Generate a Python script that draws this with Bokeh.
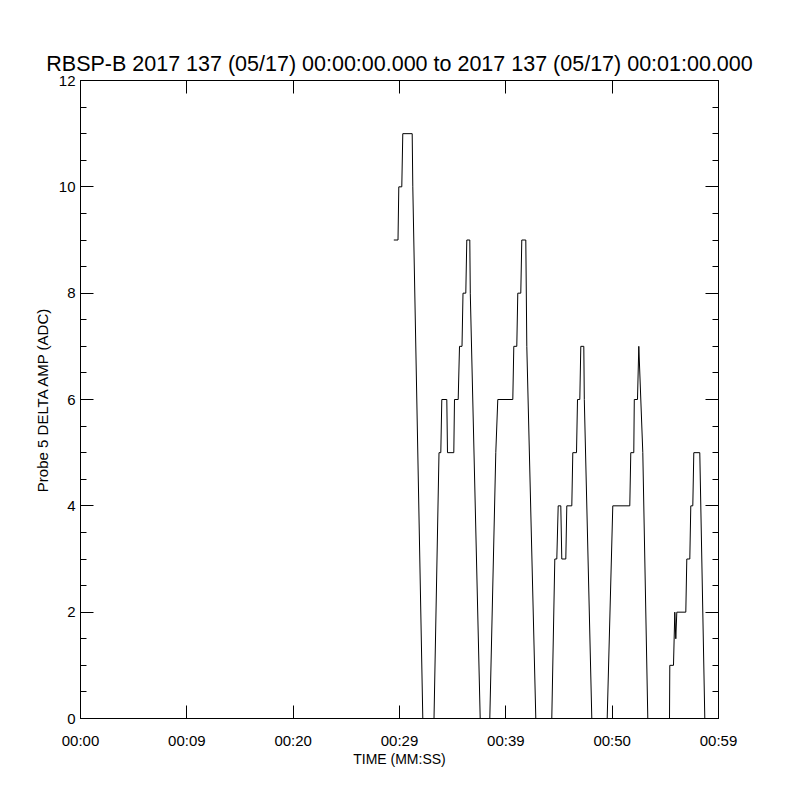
from bokeh.plotting import figure
from bokeh.models import LinearAxis, FixedTicker, Range1d
from bokeh.embed import file_html
from bokeh.resources import INLINE

title_text = "RBSP-B 2017 137 (05/17) 00:00:00.000 to 2017 137 (05/17) 00:01:00.000"
x_label = "TIME (MM:SS)"
y_label = "Probe 5 DELTA AMP (ADC)"
x_tick_values = [0, 10, 20, 30, 40, 50, 60]
x_tick_labels = ["00:00", "00:09", "00:20", "00:29", "00:39", "00:50", "00:59"]
y_tick_values = [0, 2, 4, 6, 8, 10, 12]
y_minor_values = [0.5, 1, 1.5, 2.5, 3, 3.5, 4.5, 5, 5.5, 6.5, 7, 7.5,
                  8.5, 9, 9.5, 10.5, 11, 11.5]

# seconds after 00:00:00 and probe 5 delta amplitude (ADC)
t_sec = [29.464, 29.859, 29.934, 30.216, 30.310, 31.194, 31.251, 32.191,
         33.245, 33.715, 33.884, 33.978, 34.448, 34.514, 35.107, 35.172,
         35.520, 35.643, 35.878, 35.972, 36.235, 36.329, 36.611, 36.658,
         37.589, 38.492, 39.056, 39.244, 40.655, 40.749, 41.031, 41.125,
         41.407, 41.501, 41.878, 41.972, 42.818, 44.322, 44.605, 44.793,
         44.925, 45.169, 45.263, 45.640, 45.734, 46.204, 46.298, 46.646,
         46.740, 46.956, 47.050, 47.332, 47.380, 48.085, 49.533, 50.059,
         51.658, 51.752, 52.034, 52.081, 52.382, 52.505, 52.881, 53.351,
         55.392, 55.420, 55.768, 55.891, 55.985, 56.079, 56.925, 57.019,
         57.301, 57.395, 57.583, 57.677, 58.241, 58.712]
amp = [9, 9, 10, 10, 11, 11, 10, 0,
       0, 5, 5, 6, 6, 5, 5, 6,
       6, 7, 7, 8, 8, 9, 9, 8,
       0, 0, 5, 6, 6, 7, 7, 8,
       8, 9, 9, 7, 0, 0, 3, 3,
       4, 4, 3, 3, 4, 4, 5, 5,
       6, 6, 7, 7, 6, 0, 0, 4,
       4, 5, 5, 6, 6, 7, 5, 0,
       0, 1, 1, 2, 1.5, 2, 2, 3,
       3, 4, 4, 5, 5, 0]

FONT = "Liberation Sans"

p = figure(width=784, height=784, output_backend="svg", toolbar_location=None,
           x_range=Range1d(0, 60), y_range=Range1d(0, 12),
           min_border_left=80, min_border_right=66,
           min_border_top=80, min_border_bottom=66,
           background_fill_color="white", border_fill_color="white")

p.title.text = title_text
p.title.align = "center"
p.title.text_font = FONT
p.title.text_font_size = "21.5px"
p.title.text_font_style = "normal"
p.title.text_color = "black"

p.xgrid.visible = False
p.ygrid.visible = False
p.outline_line_color = "black"
p.outline_line_width = 1
p.outline_line_alpha = 1

p.line(t_sec, amp, line_color="black", line_width=1)

xt = FixedTicker(ticks=x_tick_values, minor_ticks=[])
yt = FixedTicker(ticks=y_tick_values, minor_ticks=y_minor_values)


def style_axis(ax, show_labels, ticks):
    ax.axis_line_color = "black"
    ax.major_tick_line_color = "black"
    ax.minor_tick_line_color = "black"
    ax.major_tick_in = 13
    ax.major_tick_out = 0
    ax.minor_tick_in = 6
    ax.minor_tick_out = 0
    ax.major_label_text_font = FONT
    ax.major_label_text_color = "black"
    ax.axis_label_text_font = FONT
    ax.axis_label_text_font_style = "normal"
    ax.axis_label_text_color = "black"
    if not show_labels:
        ax.major_label_overrides = {t: "" for t in ticks}
        ax.major_label_standoff = 0


bx = p.xaxis[0]
bx.ticker = xt
bx.major_label_overrides = dict(zip(x_tick_values, x_tick_labels))
bx.axis_label = x_label
style_axis(bx, True, x_tick_values)
bx.major_label_text_font_size = "15px"
bx.axis_label_text_font_size = "14px"
bx.major_label_standoff = 13
bx.axis_label_standoff = -1

ly = p.yaxis[0]
ly.ticker = yt
ly.axis_label = y_label
style_axis(ly, True, y_tick_values)
ly.major_label_text_font_size = "15px"
ly.axis_label_text_font_size = "15px"
ly.major_label_standoff = 5
ly.axis_label_standoff = 5

tx = LinearAxis(ticker=xt)
style_axis(tx, False, x_tick_values)
p.add_layout(tx, "above")

ry = LinearAxis(ticker=yt)
style_axis(ry, False, y_tick_values)
p.add_layout(ry, "right")

open("out.html", "w").write(file_html(p, INLINE))
